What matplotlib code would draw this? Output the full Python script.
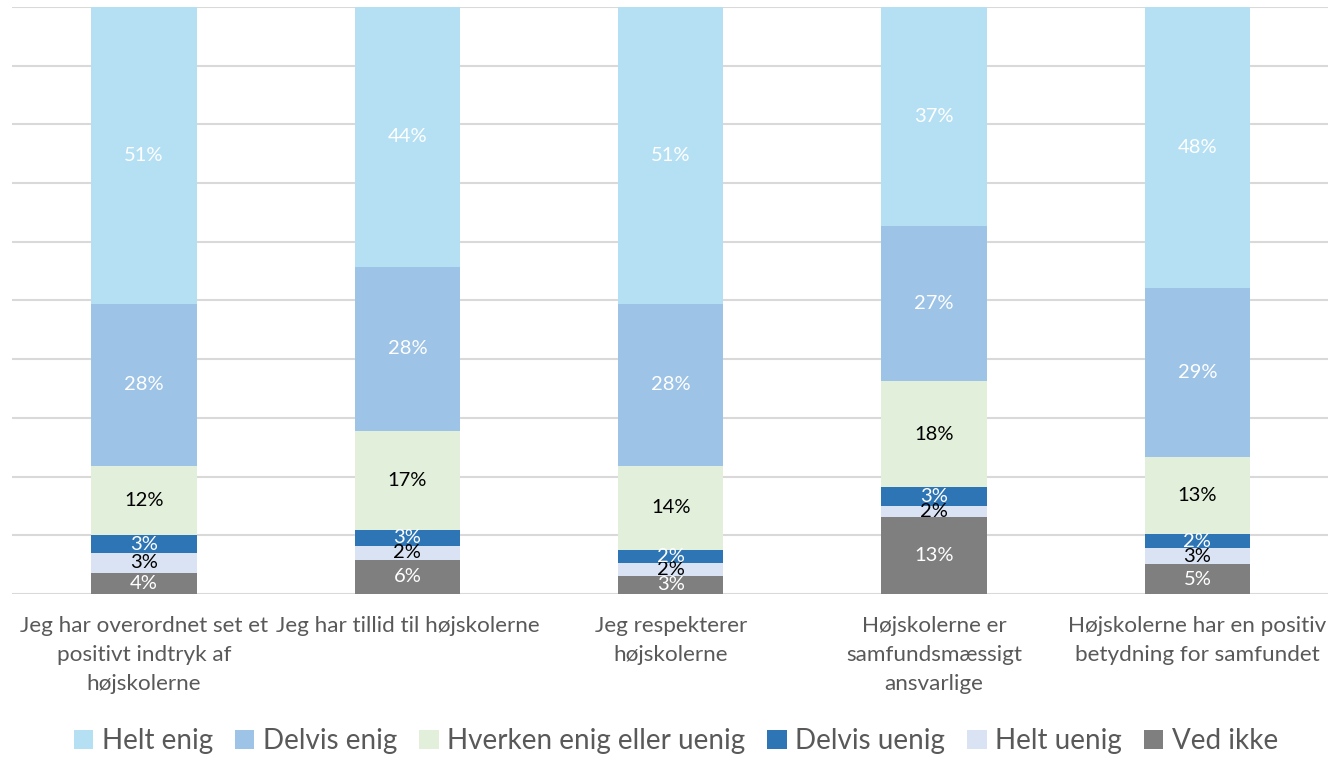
import matplotlib
matplotlib.use("Agg")
import matplotlib.pyplot as plt
import numpy as np

plt.rcParams['font.family'] = ['Lato', 'DejaVu Sans']

categories = [
    "Jeg har overordnet set et\npositivt indtryk af\nhøjskolerne",
    "Jeg har tillid til højskolerne",
    "Jeg respekterer\nhøjskolerne",
    "Højskolerne er\nsamfundsmæssigt\nansvarlige",
    "Højskolerne har en positiv\nbetydning for samfundet",
]
series_names = ["Ved ikke", "Helt uenig", "Delvis uenig",
                "Hverken enig eller uenig", "Delvis enig", "Helt enig"]
ved_ikke     = [3.6, 5.8, 3.1, 13.1, 5.1]
helt_uenig   = [3.4, 2.4, 2.2, 1.9, 2.7]
delvis_uenig = [3.0, 2.7, 2.2, 3.2, 2.4]
hverken      = [11.8, 16.9, 14.3, 18.1, 13.1]
delvis_enig  = [27.6, 27.9, 27.6, 26.4, 28.8]
helt_enig    = [50.6, 44.3, 50.6, 37.3, 47.9]
labels = {
    "Ved ikke":     ["4%", "6%", "3%", "13%", "5%"],
    "Helt uenig":   ["3%", "2%", "2%", "2%", "3%"],
    "Delvis uenig": ["3%", "3%", "2%", "3%", "2%"],
    "Hverken enig eller uenig": ["12%", "17%", "14%", "18%", "13%"],
    "Delvis enig":  ["28%", "28%", "28%", "27%", "29%"],
    "Helt enig":    ["51%", "44%", "51%", "37%", "48%"],
}
colors = {
    "Helt enig": "#B5E0F3",
    "Delvis enig": "#9DC3E6",
    "Hverken enig eller uenig": "#E2EFDA",
    "Delvis uenig": "#2E75B6",
    "Helt uenig": "#DAE3F3",
    "Ved ikke": "#7F7F7F",
}
text_colors = {
    "Helt enig": "white",
    "Delvis enig": "white",
    "Hverken enig eller uenig": "black",
    "Delvis uenig": "white",
    "Helt uenig": "black",
    "Ved ikke": "white",
}
data = [ved_ikke, helt_uenig, delvis_uenig, hverken, delvis_enig, helt_enig]

fig = plt.figure(figsize=(13.28, 7.58), dpi=100)
ax = fig.add_axes([0.0093, 0.2164, 0.9915, 0.7744])
x = np.arange(len(categories))
bottom = np.zeros(len(categories))
handles = {}
for name, vals in zip(series_names, data):
    vals = np.array(vals)
    b = ax.bar(x, vals, 0.4, bottom=bottom, color=colors[name], zorder=2)
    handles[name] = b
    for xi, v, bt, lab in zip(x, vals, bottom, labels[name]):
        ax.text(xi, bt + v / 2, lab, ha='center', va='center',
                color=text_colors[name], fontsize=14.5, zorder=3)
    bottom += vals

ax.set_xlim(-0.5, 4.5)
ax.set_ylim(0, 100)
ax.set_yticks(np.arange(0, 101, 10))
ax.yaxis.grid(True, color='#D9D9D9', linewidth=1.5, zorder=0)
ax.tick_params(axis='y', left=False, labelleft=False)
ax.tick_params(axis='x', length=0, pad=16, labelsize=16.2, labelcolor='#595959')
ax.set_xticks(x)
ax.set_xticklabels(categories, linespacing=1.55)
for s in ax.spines.values():
    s.set_visible(False)

order = ["Helt enig", "Delvis enig", "Hverken enig eller uenig",
         "Delvis uenig", "Helt uenig", "Ved ikke"]
leg = fig.legend([handles[n] for n in order], order, loc='center',
                 bbox_to_anchor=(0.509, 0.022), ncol=6, frameon=False,
                 fontsize=20, handlelength=0.7, handleheight=0.7,
                 handletextpad=0.3, columnspacing=0.8, labelcolor='#595959')
fig.savefig("out.png", dpi=100)
